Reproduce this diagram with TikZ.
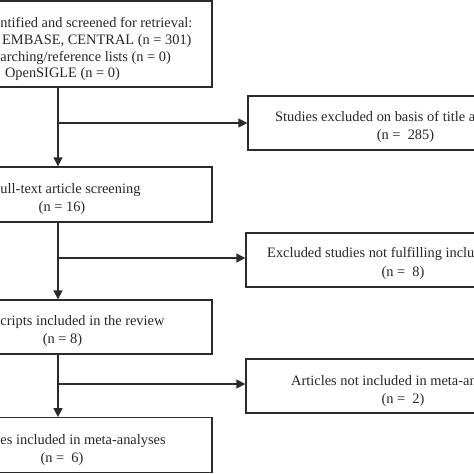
\documentclass[tikz,border=0pt]{standalone}
\usepackage{fontspec}
\setmainfont{Liberation Serif}
\usetikzlibrary{arrows.meta}
\definecolor{ink}{HTML}{2B2B2B}
\definecolor{txt}{HTML}{262626}
\begin{document}
\begin{tikzpicture}[x=1pt,y=-1pt,
  box/.style={draw=ink,line width=1.4pt,rectangle,inner sep=0pt},
  lbl/.style={text=txt,inner sep=0pt,font=\fontsize{14.4}{17}\selectfont},
  arr/.style={draw=ink,line width=1.6pt,-{Triangle[width=9pt,length=9pt]}}]
\useasboundingbox (0,0) rectangle (474,474);
\clip (0,0) rectangle (474,474);
\fill[white] (0,0) rectangle (474,474);
% left column boxes
\node[box,minimum width=300pt,minimum height=86pt] (top) at (62,44) {};
\node[box,minimum width=300pt,minimum height=55pt] (b2) at (62,194.5) {};
\node[box,minimum width=300pt,minimum height=54pt] (b3) at (62,327) {};
\node[box,minimum width=300pt,minimum height=54.5pt] (b4) at (62,445) {};
% right column boxes
\node[box,minimum width=312pt,minimum height=54pt] (r1) at (404,123) {};
\node[box,minimum width=314pt,minimum height=54pt] (r2) at (403,260) {};
\node[box,minimum width=314pt,minimum height=54pt] (r3) at (403,386) {};
% texts
\node[lbl,anchor=mid west] (t1a) at (0.3,25) {ntified and screened for retrieval:};
\node[lbl,anchor=mid west] (t1b) at (2,42) {EMBASE, CENTRAL (n = 301)};
\node[lbl,anchor=mid west] (t1c) at (0.3,59) {arching/reference lists (n = 0)};
\node[lbl,anchor=mid] (t1d) at (62.5,75.5) {OpenSIGLE (n = 0)};
\node[lbl,anchor=mid west] (t2a) at (0.3,191) {ull-text article screening};
\node[lbl,anchor=mid] (t2b) at (62,209) {(n = 16)};
\node[lbl,anchor=mid west] (t3a) at (0.3,323.5) {cripts included in the review};
\node[lbl,anchor=mid] (t3b) at (62.5,341.5) {(n = 8)};
\node[lbl,anchor=mid west] (t4a) at (0.3,442.5) {es included in meta-analyses};
\node[lbl,anchor=mid] (t4b) at (62,460.5) {(n =\ \ 6)};
\node[lbl,anchor=mid west] (u1a) at (275,119.5) {Studies excluded on basis of title a};
\node[lbl,anchor=mid] (u1b) at (405.5,137.5) {(n =\ \ 285)};
\node[lbl,anchor=mid west] (u2a) at (267,255.5) {Excluded studies not fulfilling inclu};
\node[lbl,anchor=mid] (u2b) at (403,274) {(n =\ \ 8)};
\node[lbl,anchor=mid west] (u3a) at (291,383.5) {Articles not included in meta-an};
\node[lbl,anchor=mid] (u3b) at (403,401.5) {(n =\ \ 2)};
% connectors
\coordinate (col) at (58,0);
\coordinate (j1) at (58,123);
\coordinate (j2) at (58,258);
\coordinate (j3) at (58,384);
\draw[arr] (top.south -| col) -- (b2.north -| col);
\draw[arr] (b2.south -| col) -- (b3.north -| col);
\draw[arr] (b3.south -| col) -- (b4.north -| col);
\draw[arr] (j1) -- (r1.west |- j1);
\draw[arr] (j2) -- (r2.west |- j2);
\draw[arr] (j3) -- (r3.west |- j3);
\end{tikzpicture}
\end{document}
